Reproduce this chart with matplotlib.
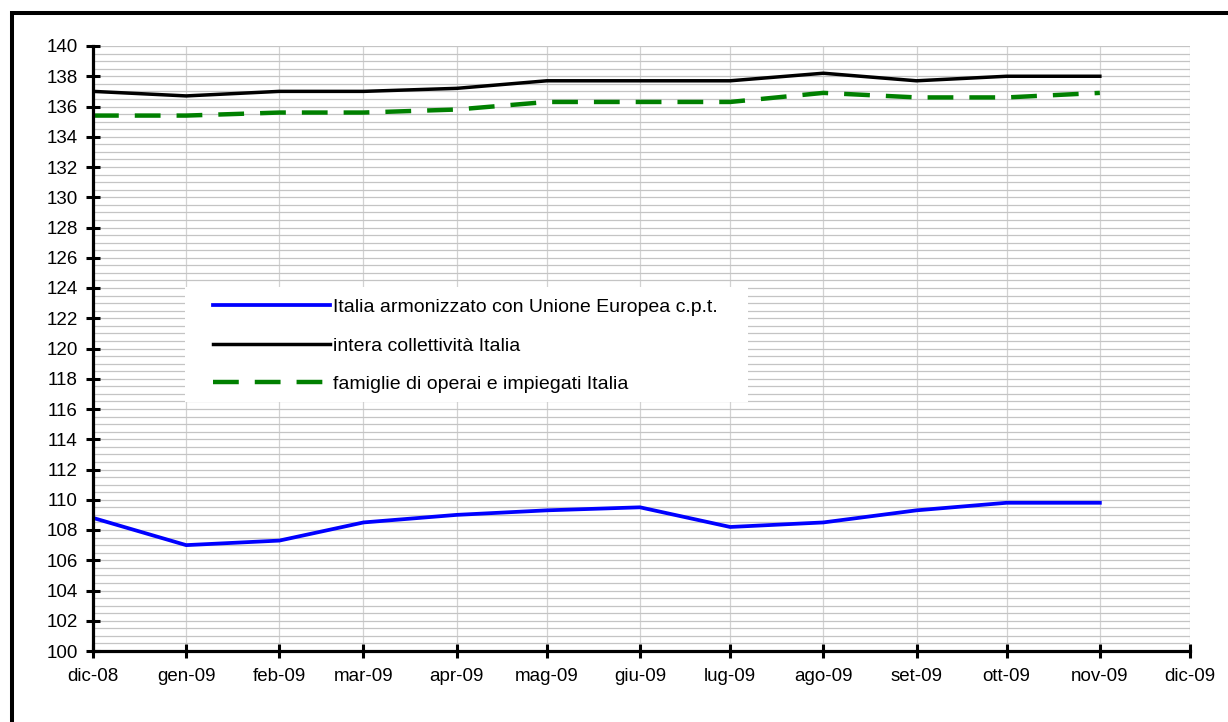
import pandas as pd
import matplotlib
matplotlib.use("Agg")
import matplotlib.pyplot as plt
from matplotlib.patches import Rectangle
from matplotlib.ticker import MultipleLocator

plt.rcParams["font.family"] = ["Liberation Sans", "DejaVu Sans"]

months = ["2008-12-01", "2009-01-01", "2009-02-01", "2009-03-01", "2009-04-01", "2009-05-01",
          "2009-06-01", "2009-07-01", "2009-08-01", "2009-09-01", "2009-10-01", "2009-11-01"]
tick_dates = months + ["2009-12-01"]
tick_labels = ["dic-08", "gen-09", "feb-09", "mar-09", "apr-09", "mag-09", "giu-09",
               "lug-09", "ago-09", "set-09", "ott-09", "nov-09", "dic-09"]

ipca = [108.8, 107.0, 107.3, 108.5, 109.0, 109.3, 109.5, 108.2, 108.5, 109.3, 109.8, 109.8]
nic = [137.0, 136.7, 137.0, 137.0, 137.2, 137.7, 137.7, 137.7, 138.2, 137.7, 138.0, 138.0]
foi = [135.4, 135.4, 135.6, 135.6, 135.8, 136.3, 136.3, 136.3, 136.9, 136.6, 136.6, 136.9]

labels = ["Italia armonizzato con Unione Europea c.p.t.",
          "intera collettività Italia",
          "famiglie di operai e impiegati Italia"]

x = pd.to_datetime(months)
xt = pd.to_datetime(tick_dates)

fig = plt.figure(figsize=(12.28, 7.22), dpi=100)
ax = fig.add_axes([93 / 1228, 71 / 722, 1097 / 1228, 605 / 722])

# outer frame, cut at right and bottom like the original
fig.patches.append(Rectangle((11.5 / 1228, -0.1), 1.2, (722 - 13) / 722 + 0.1,
                             transform=fig.transFigure, fill=False,
                             edgecolor="black", linewidth=2.9))

ax.plot(x, ipca, color="#0000ff", lw=2.7, label=labels[0])
ax.plot(x, nic, color="black", lw=2.5, label=labels[1])
ax.plot(x, foi, color="#008000", lw=3.2, dashes=(5.8, 3.6), label=labels[2])

ax.set_xlim(xt[0], xt[-1])
ax.set_ylim(100, 140)
ax.set_xticks(xt)
ax.set_xticklabels(tick_labels)
ax.yaxis.set_major_locator(MultipleLocator(2))
ax.yaxis.set_minor_locator(MultipleLocator(0.5))

ax.grid(axis="y", which="both", color="#c4c4c4", lw=0.9)
ax.grid(axis="x", which="major", color="#d2d2d2", lw=0.9)
ax.set_axisbelow(True)

for s in ["top", "right"]:
    ax.spines[s].set_visible(False)
for s in ["left", "bottom"]:
    ax.spines[s].set_linewidth(2.3)

ax.tick_params(axis="both", which="major", direction="inout", length=10, width=2.2,
               labelsize=13.5, colors="black")
ax.tick_params(axis="y", which="major", pad=6)
ax.tick_params(axis="x", which="major", pad=7)
ax.tick_params(axis="y", which="minor", length=0)

# white legend area (wider than the legend contents, as in the original)
ax.add_patch(Rectangle((0.0839, 0.4116), 0.513, 0.19, transform=ax.transAxes,
                       facecolor="white", edgecolor="none", zorder=1.5))

leg = ax.legend(loc="upper left", bbox_to_anchor=(0.1094, 0.583), fontsize=14,
                frameon=False, handlelength=6.0, handletextpad=0.15, labelspacing=1.08,
                borderpad=0, borderaxespad=0)
leg.set_zorder(5)

fig.savefig("out.png", dpi=100)
